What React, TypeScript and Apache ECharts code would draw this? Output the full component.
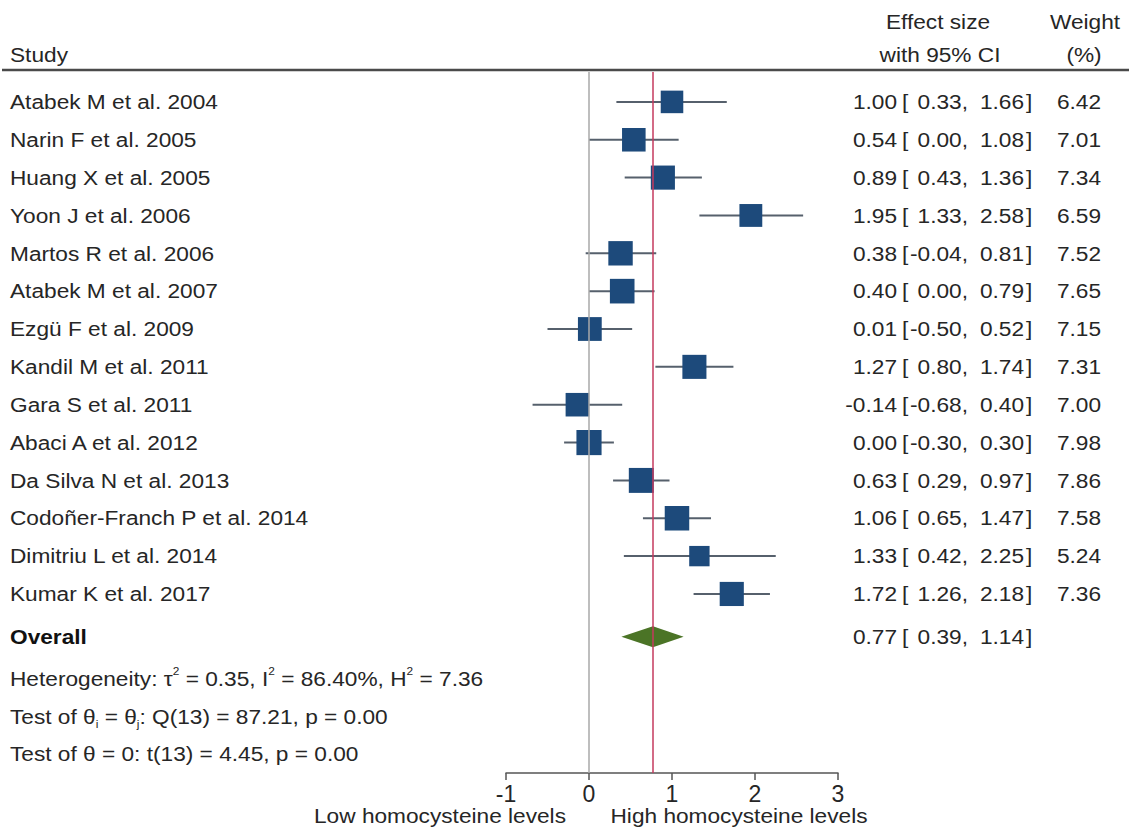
import React, { useEffect, useRef } from "react";
import * as echarts from "echarts";

const studies = [
  "Atabek M et al. 2004",
  "Narin F et al. 2005",
  "Huang X et al. 2005",
  "Yoon J et al. 2006",
  "Martos R et al. 2006",
  "Atabek M et al. 2007",
  "Ezgü F et al. 2009",
  "Kandil M et al. 2011",
  "Gara S et al. 2011",
  "Abaci A et al. 2012",
  "Da Silva N et al. 2013",
  "Codoñer-Franch P et al. 2014",
  "Dimitriu L et al. 2014",
  "Kumar K et al. 2017",
];
const estimates = [1.0, 0.54, 0.89, 1.95, 0.38, 0.4, 0.01, 1.27, -0.14, 0.0, 0.63, 1.06, 1.33, 1.72];
const lowers = [0.33, 0.0, 0.43, 1.33, -0.04, 0.0, -0.5, 0.8, -0.68, -0.3, 0.29, 0.65, 0.42, 1.26];
const uppers = [1.66, 1.08, 1.36, 2.58, 0.81, 0.79, 0.52, 1.74, 0.4, 0.3, 0.97, 1.47, 2.25, 2.18];
const weights = [6.42, 7.01, 7.34, 6.59, 7.52, 7.65, 7.15, 7.31, 7.0, 7.98, 7.86, 7.58, 5.24, 7.36];

const overallEstimate = 0.77;
const overallLower = 0.39;
const overallUpper = 1.14;
const overallRow = 14.13;

const xTicks = [-1, 0, 1, 2, 3];
const statLines = [
  "Heterogeneity: τ{up|2} = 0.35, I{up|2} = 86.40%, H{up|2} = 7.36",
  "Test of θ{dn|i} = θ{dn|j}: Q(13) = 87.21, p = 0.00",
  "Test of θ = 0: t(13) = 4.45, p = 0.00",
];
const lowLabel = "Low homocysteine levels";
const highLabel = "High homocysteine levels";

const FONT_FAMILY = '"Liberation Sans", Arial, sans-serif';
const FS = 21;
const SX = 1.08;
const TEXT = "#262626";
const FONT = `${FS}px ${FONT_FAMILY}`;

function txt(x: number, y: number, text: string, align: string, extra: any = {}) {
  return {
    type: "text",
    x,
    y,
    scaleX: SX,
    style: { text, font: FONT, fill: TEXT, align, verticalAlign: "middle", ...extra },
  };
}

function ciTexts(est: number, lo: number, hi: number, y: number, w: number | null) {
  const f = (v: number) => (Math.abs(v) < 0.005 ? 0 : v).toFixed(2);
  const els: any[] = [
    txt(897, y, f(est), "right"),
    txt(902, y, "[", "left"),
    txt(968, y, f(lo) + ",", "right"),
    txt(1024, y, f(hi), "right"),
    txt(1026, y, "]", "left"),
  ];
  if (w !== null) els.push(txt(1101, y, w.toFixed(2), "right"));
  return els;
}

export default function App() {
  const ref = useRef<HTMLDivElement>(null);
  useEffect(() => {
    if (!ref.current) return;
    const chart = echarts.init(ref.current, null, { renderer: "svg" });
    const studyData = studies.map((_, i) => [estimates[i], lowers[i], uppers[i], weights[i], i]);
    const option: any = {
      animation: false,
      backgroundColor: "#ffffff",
      grid: { left: 506, right: 291, top: 72, bottom: 54 },
      xAxis: {
        type: "value",
        min: -1,
        max: 3,
        interval: 1,
        splitLine: { show: false },
        axisLine: { show: true, onZero: false, lineStyle: { color: "#555", width: 1.5 } },
        axisTick: { show: true, length: 7, lineStyle: { color: "#555", width: 1.5 } },
        axisLabel: {
          color: TEXT,
          fontSize: 23,
          fontFamily: FONT_FAMILY,
          margin: 9,
          formatter: (v: number) => (xTicks.includes(v) ? String(v) : ""),
        },
      },
      yAxis: {
        type: "value",
        inverse: true,
        min: -0.79,
        max: 17.73,
        show: false,
      },
      series: [
        {
          type: "custom",
          name: "studies",
          data: studyData,
          encode: { x: [0, 1, 2], y: 4 },
          clip: false,
          markLine: {
            silent: true,
            symbol: "none",
            label: { show: false },
            data: [
              { xAxis: 0, lineStyle: { color: "#a8a8a8", width: 1.5, type: "solid" } },
              { xAxis: overallEstimate, lineStyle: { color: "#c43a5e", width: 1.5, type: "solid" } },
            ],
          },
          renderItem: (params: any, api: any) => {
            const i = params.dataIndex;
            const est = api.value(0);
            const lo = api.value(1);
            const hi = api.value(2);
            const w = api.value(3);
            const row = api.value(4);
            const pE = api.coord([est, row]);
            const pL = api.coord([lo, row]);
            const pH = api.coord([hi, row]);
            const side = 8.9 * Math.sqrt(w);
            return {
              type: "group",
              children: [
                {
                  type: "line",
                  shape: { x1: pL[0], y1: pL[1], x2: pH[0], y2: pH[1] },
                  style: { stroke: "#56606c", lineWidth: 2 },
                },
                {
                  type: "rect",
                  shape: { x: pE[0] - side / 2, y: pE[1] - side / 2, width: side, height: side },
                  style: { fill: "#1d4a7b" },
                },
                txt(10, pE[1], studies[i], "left"),
                ...ciTexts(est, lo, hi, pE[1], w),
              ],
            };
          },
        },
        {
          type: "custom",
          name: "overall",
          data: [[overallEstimate, overallLower, overallUpper, overallRow]],
          encode: { x: [0, 1, 2], y: 3 },
          clip: false,
          renderItem: (params: any, api: any) => {
            const est = api.value(0);
            const lo = api.value(1);
            const hi = api.value(2);
            const row = api.value(3);
            const pE = api.coord([est, row]);
            const pL = api.coord([lo, row]);
            const pH = api.coord([hi, row]);
            const h = 10.5;
            return {
              type: "group",
              children: [
                {
                  type: "polygon",
                  shape: {
                    points: [
                      [pL[0], pE[1]],
                      [pE[0], pE[1] - h],
                      [pH[0], pE[1]],
                      [pE[0], pE[1] + h],
                    ],
                  },
                  style: { fill: "#4b7426" },
                },
                txt(10, pE[1], "Overall", "left", { font: `bold ${FS}px ${FONT_FAMILY}`, fill: "#111" }),
                ...ciTexts(est, lo, hi, pE[1], null),
              ],
            };
          },
        },
      ],
      graphic: [
        txt(10, 55, "Study", "left"),
        txt(938, 22, "Effect size", "center"),
        txt(940, 55, "with 95% CI", "center"),
        txt(1085, 22, "Weight", "center"),
        txt(1084, 55, "(%)", "center"),
        {
          type: "line",
          shape: { x1: 2, y1: 70, x2: 1129, y2: 70 },
          style: { stroke: "#4a4a4a", lineWidth: 2.5 },
        },
        ...statLines.map((t, k) =>
          txt(10, 679 + k * 37.3, t, "left", {
            lineHeight: 26,
            rich: {
              up: { fontSize: 11, lineHeight: 12, verticalAlign: "top", fill: TEXT, color: TEXT, fontFamily: FONT_FAMILY },
              dn: { fontSize: 11, lineHeight: 12, verticalAlign: "bottom", fill: TEXT, color: TEXT, fontFamily: FONT_FAMILY },
            },
          })
        ),
        txt(440, 816, lowLabel, "center"),
        txt(739, 816, highLabel, "center"),
      ],
    };
    chart.setOption(option);
    return () => chart.dispose();
  }, []);
  return (
    <div
      ref={ref}
      style={{ position: "fixed", left: 0, top: 0, width: 1129, height: 827, background: "#fff" }}
    />
  );
}
